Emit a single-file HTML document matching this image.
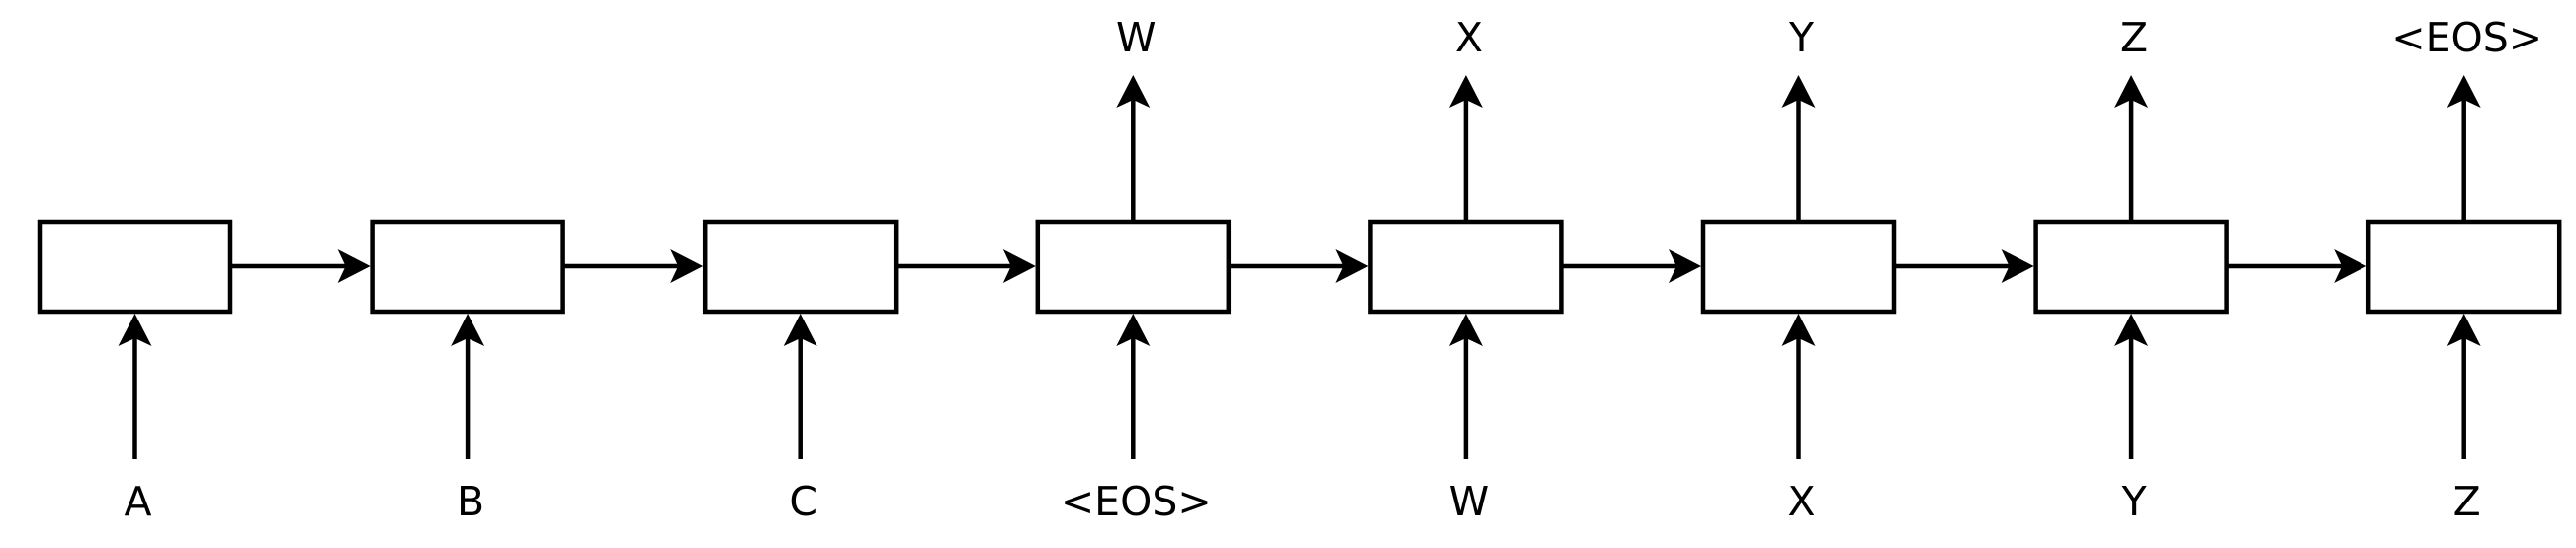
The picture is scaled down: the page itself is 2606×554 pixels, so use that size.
<!DOCTYPE html>
<html><head><meta charset="utf-8"><style>
html,body{margin:0;padding:0;background:#fff;}
svg{display:block;}
text{font-family:"DejaVu Sans","Liberation Sans",sans-serif;font-size:41px;fill:#000;text-anchor:middle;}
</style></head><body>
<svg width="2606" height="554" viewBox="0 0 2606 554" xmlns="http://www.w3.org/2000/svg">
<g fill="none" stroke="#000" stroke-width="4.5">
<rect x="40" y="224" width="193" height="91"/>
<rect x="376.6" y="224" width="193" height="91"/>
<rect x="713.2" y="224" width="193" height="91"/>
<rect x="1049.8" y="224" width="193" height="91"/>
<rect x="1386.4" y="224" width="193" height="91"/>
<rect x="1723" y="224" width="193" height="91"/>
<rect x="2059.6" y="224" width="193" height="91"/>
<rect x="2396.2" y="224" width="193" height="91"/>
<path d="M136.5 464V335 M473.1 464V335 M809.7 464V335 M1146.3 464V335 M1482.9 464V335 M1819.5 464V335 M2156.1 464V335 M2492.7 464V335"/>
<path d="M1146.3 224V96 M1482.9 224V96 M1819.5 224V96 M2156.1 224V96 M2492.7 224V96"/>
<path d="M233 269H356.6 M569.6 269H693.2 M906.2 269H1029.8 M1242.8 269H1366.4 M1579.4 269H1703 M1916 269H2039.6 M2252.6 269H2376.2"/>
</g>
<g fill="#000">
<path d="M136.5 317l17 33l-17 -8l-17 8z"/>
<path d="M473.1 317l17 33l-17 -8l-17 8z"/>
<path d="M809.7 317l17 33l-17 -8l-17 8z"/>
<path d="M1146.3 317l17 33l-17 -8l-17 8z"/>
<path d="M1482.9 317l17 33l-17 -8l-17 8z"/>
<path d="M1819.5 317l17 33l-17 -8l-17 8z"/>
<path d="M2156.1 317l17 33l-17 -8l-17 8z"/>
<path d="M2492.7 317l17 33l-17 -8l-17 8z"/>
<path d="M1146.3 76l17 33l-17 -8l-17 8z"/>
<path d="M1482.9 76l17 33l-17 -8l-17 8z"/>
<path d="M1819.5 76l17 33l-17 -8l-17 8z"/>
<path d="M2156.1 76l17 33l-17 -8l-17 8z"/>
<path d="M2492.7 76l17 33l-17 -8l-17 8z"/>
<path d="M374.6 269l-33 -17l8 17l-8 17z"/>
<path d="M711.2 269l-33 -17l8 17l-8 17z"/>
<path d="M1047.8 269l-33 -17l8 17l-8 17z"/>
<path d="M1384.4 269l-33 -17l8 17l-8 17z"/>
<path d="M1721 269l-33 -17l8 17l-8 17z"/>
<path d="M2057.6 269l-33 -17l8 17l-8 17z"/>
<path d="M2394.2 269l-33 -17l8 17l-8 17z"/>
</g>
<text x="139.5" y="521">A</text>
<text x="476.1" y="521">B</text>
<text x="812.7" y="521">C</text>
<text x="1149.3" y="521">&lt;EOS&gt;</text>
<text x="1485.9" y="521">W</text>
<text x="1822.5" y="521">X</text>
<text x="2159.1" y="521">Y</text>
<text x="2495.7" y="521">Z</text>
<text x="1149.3" y="52">W</text>
<text x="1485.9" y="52">X</text>
<text x="1822.5" y="52">Y</text>
<text x="2159.1" y="52">Z</text>
<text x="2495.7" y="52">&lt;EOS&gt;</text>
</svg>
</body></html>
